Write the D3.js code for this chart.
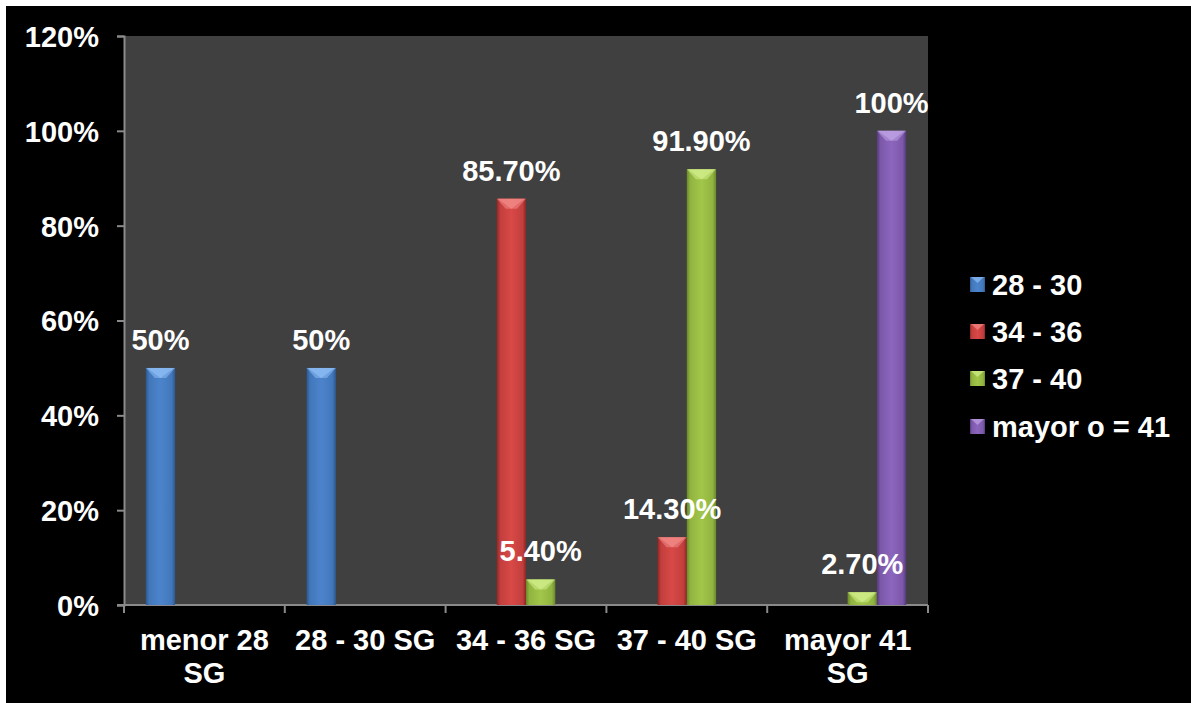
<!DOCTYPE html>
<html>
<head>
<meta charset="utf-8">
<script src="https://cdn.jsdelivr.net/npm/d3@7/dist/d3.min.js"></script>
<style>
html,body{margin:0;padding:0;background:#fff;overflow:hidden;}
svg{display:block;}
text{font-family:Arial,"Liberation Sans",sans-serif;font-weight:bold;fill:#fff;}
</style>
</head>
<body>
<script>
const categories = ["menor 28\nSG", "28 - 30 SG", "34 - 36 SG", "37 - 40 SG", "mayor 41\nSG"];
const seriesNames = ["28 - 30", "34 - 36", "37 - 40", "mayor o = 41"];
const s2830 = [50, 50, 0, 0, 0];
const s3436 = [0, 0, 85.7, 14.3, 0];
const s3740 = [0, 0, 5.4, 91.9, 2.7];
const sMayor41 = [0, 0, 0, 0, 100];
const yTicks = [0, 20, 40, 60, 80, 100, 120];
const seriesColors = [
  {mid:"#4c84cc", edge:"#2c5890", cap:"#8fbdf5"},
  {mid:"#d84947", edge:"#8e2624", cap:"#f28a88"},
  {mid:"#a2c64a", edge:"#6a8a2a", cap:"#d2ee8a"},
  {mid:"#8c66bd", edge:"#55387a", cap:"#bfa2e6"}
];
const seriesValues = [s2830, s3436, s3740, sMayor41];

const W = 1191, H = 703;
const FS = 29;
const svg = d3.select("body").append("svg").attr("width", W).attr("height", H);
svg.append("rect").attr("x", 6).attr("y", 6).attr("width", W).attr("height", H).attr("fill", "#000");

const plot = {left: 124, right: 928, top: 36, bottom: 605};
svg.append("rect").attr("x", plot.left).attr("y", plot.top)
  .attr("width", plot.right - plot.left).attr("height", plot.bottom - plot.top).attr("fill", "#404040");

const x = d3.scaleBand().domain(categories).range([plot.left, plot.right]).paddingInner(0).paddingOuter(0);
const xs = d3.scaleBand().domain(seriesNames).range([0, x.bandwidth()]).paddingInner(0).paddingOuter(0.745);
const y = d3.scaleLinear().domain([0, 120]).range([plot.bottom, plot.top]);

const defs = svg.append("defs");
seriesColors.forEach((c, i) => {
  const g = defs.append("linearGradient").attr("id", "g" + i).attr("x1", "0").attr("x2", "1").attr("y1", "0").attr("y2", "0");
  g.append("stop").attr("offset", "0").attr("stop-color", c.edge);
  g.append("stop").attr("offset", "0.12").attr("stop-color", d3.interpolateRgb(c.edge, c.mid)(0.7));
  g.append("stop").attr("offset", "0.5").attr("stop-color", c.mid);
  g.append("stop").attr("offset", "0.88").attr("stop-color", d3.interpolateRgb(c.edge, c.mid)(0.7));
  g.append("stop").attr("offset", "1").attr("stop-color", c.edge);
});

// axes
const axisColor = "#8a8a8a";
const yAxis = svg.append("g").attr("transform", `translate(${plot.left},0)`)
  .call(d3.axisLeft(y).tickValues(yTicks).tickSize(7).tickPadding(18).tickFormat(d => d + "%"));
yAxis.select(".domain").attr("stroke", axisColor).attr("stroke-width", 2);
yAxis.selectAll(".tick line").attr("stroke", axisColor).attr("stroke-width", 2);
yAxis.selectAll(".tick text").attr("fill", "#fff").attr("font-size", FS)
  .attr("font-family", 'Arial,"Liberation Sans",sans-serif').attr("font-weight", "bold").attr("dy", "0.36em");

const xAxisG = svg.append("g").attr("transform", `translate(0,${plot.bottom})`);
xAxisG.append("line").attr("x1", plot.left - 7).attr("x2", plot.right).attr("y1", 0).attr("y2", 0)
  .attr("stroke", axisColor).attr("stroke-width", 2);
const bounds = categories.map(c => x(c)).concat([x(categories[categories.length - 1]) + x.bandwidth()]);
xAxisG.selectAll("line.t").data(bounds).join("line").attr("class", "t")
  .attr("x1", d => d).attr("x2", d => d).attr("y1", 0).attr("y2", 8)
  .attr("stroke", axisColor).attr("stroke-width", 2);
categories.forEach(c => {
  const lines = c.split("\n");
  const t = xAxisG.append("text").attr("text-anchor", "middle").attr("font-size", FS)
    .attr("x", x(c) + x.bandwidth() / 2);
  lines.forEach((ln, i) => {
    t.append("tspan").attr("x", x(c) + x.bandwidth() / 2).attr("y", 45 + i * 33).text(ln);
  });
});

// bars
const fmt = v => Number.isInteger(v) ? v + "%" : v.toFixed(2) + "%";
const barsG = svg.append("g");
const labelsG = svg.append("g");
seriesNames.forEach((s, si) => {
  const c = seriesColors[si];
  const data = categories.map((cat, ci) => ({cat, v: seriesValues[si][ci]})).filter(d => d.v > 0);
  data.forEach(d => {
    const x0 = x(d.cat) + xs(s), w = xs.bandwidth();
    const yt = y(d.v), h = plot.bottom - yt;
    barsG.append("rect").attr("x", x0).attr("y", yt).attr("width", w).attr("height", h).attr("fill", `url(#g${si})`);
    const capH = Math.min(10, h);
    barsG.append("polygon")
      .attr("points", `${x0},${yt} ${x0 + w},${yt} ${x0 + w - capH * 0.9},${yt + capH} ${x0 + capH * 0.9},${yt + capH}`)
      .attr("fill", c.cap).attr("opacity", 0.55);
    barsG.append("polygon")
      .attr("points", `${x0 + 1},${yt} ${x0 + w - 1},${yt} ${x0 + w / 2},${yt + capH}`)
      .attr("fill", c.cap).attr("opacity", 0.7);
    labelsG.append("text").attr("x", x0 + w / 2).attr("y", yt - 18).attr("text-anchor", "middle")
      .attr("font-size", FS).text(fmt(d.v));
  });
});

// legend
const legend = svg.append("g");
const legendY = [285, 332, 379, 427];
seriesNames.forEach((s, i) => {
  const c = seriesColors[i];
  const yc = legendY[i];
  legend.append("rect").attr("x", 970).attr("y", yc - 8).attr("width", 15).attr("height", 15).attr("fill", `url(#g${i})`);
  legend.append("polygon").attr("points", `${971},${yc - 8} ${984},${yc - 8} ${977.5},${yc - 2}`).attr("fill", c.cap).attr("opacity", 0.7);
  legend.append("text").attr("x", 992).attr("y", yc).attr("dy", "0.36em").attr("font-size", FS).text(s);
});
</script>
</body>
</html>
